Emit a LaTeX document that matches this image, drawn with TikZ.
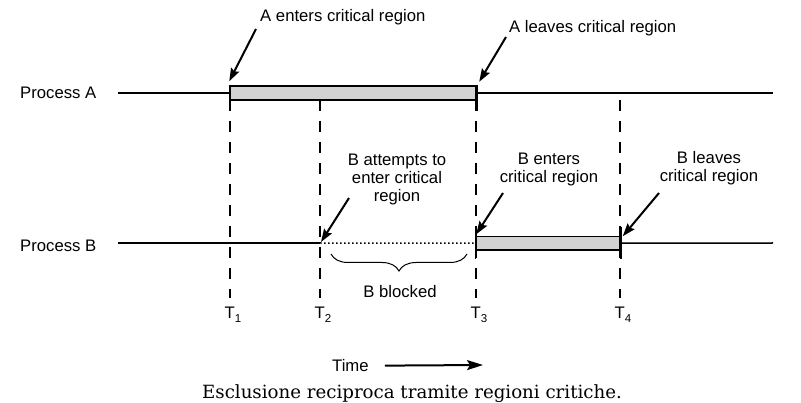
\documentclass[tikz,border=0pt]{standalone}
\usepackage{fontspec}
\setmainfont{Liberation Sans}
\newfontfamily\captionserif{DejaVu Serif}
\usetikzlibrary{arrows.meta,positioning,decorations.pathreplacing}
\definecolor{boxgray}{RGB}{210,210,210}
\newcommand{\tsub}[1]{\raisebox{-3.7pt}{\fontsize{11.5}{12}\selectfont #1}}

\begin{document}
\begin{tikzpicture}[x=1pt, y=-1pt,
    lbl/.style={font=\fontsize{16.7}{18}\selectfont, inner sep=0pt},
    critbox/.style={draw, line width=1.5pt, fill=boxgray, inner sep=0pt, minimum height=14pt},
    procline/.style={line width=1.5pt},
    tline/.style={line width=1.7pt, dash pattern=on 11pt off 10pt},
    callout/.style={-{Stealth[length=13pt,width=9pt,inset=2pt]}, line width=2pt}]
    \useasboundingbox (0,0) rectangle (801,403);

    % Time marks
    \foreach \x/\n in {230/1, 320/2, 476/3, 620/4} {
        \coordinate (top\n) at (\x,100);
        \coordinate (bot\n) at (\x,298);
        \draw[tline] (top\n) -- (bot\n);
        \node[lbl, anchor=base] (t\n) at (\x+3,319) {T\tsub{\n}};
    }

    % Processes
    \node[lbl, anchor=base west] (procA) at (20,99) {Process A};
    \node[lbl, anchor=base west] (procB) at (20,251.7) {Process B};
    \coordinate (Astart) at (118,93);
    \coordinate (Aend) at (773,93);
    \coordinate (Bstart) at (118,243);
    \coordinate (Bend) at (773,243);
    \coordinate (Btry) at (320,243);

    \node[critbox, minimum width=246pt] (critA) at (353,93) {};
    \node[critbox, minimum width=144pt, minimum height=13.5pt] (critB) at (548,243.25) {};

    \draw[procline] (Astart) -- (critA.west);
    \draw[procline] (critA.east) -- (Aend);
    \draw[procline] (Bstart) -- (Btry);
    \draw[procline, dash pattern=on 1.5pt off 2.5pt] (Btry) -- (critB.west);
    \draw[procline] (critB.east) -- (Bend);

    % Box edges
    \draw[procline] (critA.north west) -- ([yshift=-10pt]critA.south west);
    \draw[procline] (critA.north east) -- ([yshift=-10pt]critA.south east);
    \draw[procline] ([yshift=9pt]critB.north west) -- ([yshift=-8pt]critB.south west);
    \draw[procline] ([yshift=9pt]critB.north east) -- ([yshift=-8pt]critB.south east);

    % Labels
    \node[lbl, anchor=base west] (aenter) at (260,21.7) {A enters critical region};
    \node[lbl, anchor=base west] (aleave) at (509,32.3) {A leaves critical region};
    \node[lbl, align=center, anchor=base] (btry) at (397,202) {B attempts to\\enter critical\\region};
    \node[lbl, align=center, anchor=base] (benter) at (549,183) {B enters\\critical region};
    \node[lbl, align=center, anchor=base] (bleave) at (709,182) {B leaves\\critical region};

    % Arrows
    \coordinate (aenter-from) at (256,29);
    \coordinate (aleave-from) at (506,37);
    \coordinate (btry-from) at (349,198);
    \coordinate (benter-from) at (503,193);
    \coordinate (bleave-from) at (659,193);
    \draw[callout] (aenter-from) -- ([yshift=4pt]critA.north west);
    \draw[callout] (aleave-from) -- ([xshift=2.5pt,yshift=3.5pt]critA.north east);
    \draw[callout] (btry-from) -- ([xshift=1pt,yshift=1pt]Btry);
    \draw[callout] (benter-from) -- ([xshift=1pt,yshift=1.5pt]critB.north west);
    \draw[callout] (bleave-from) -- ([xshift=2pt,yshift=-0.5pt]critB.north east);

    % Blocked interval
    \coordinate (blkL) at (331,254);
    \coordinate (blkR) at (467,254);
    \draw[line width=1pt, decorate, decoration={brace, mirror, amplitude=17pt}] (blkL) -- (blkR);
    \node[lbl, anchor=base] (blocked) at (400,297.7) {B blocked};

    % Time axis
    \node[lbl, anchor=base west] (time) at (332,371.7) {Time};
    \coordinate (timeto) at (483,365);
    \draw[-{Stealth[length=16pt,width=10pt,inset=3pt]}, line width=2pt, shorten <=16pt] (time.east) -- (timeto);

    % Caption
    \node[font=\captionserif\fontsize{18.2}{20}\selectfont, inner sep=0pt, anchor=base] (caption) at (412,399) {Esclusione reciproca tramite regioni critiche.};
\end{tikzpicture}
\end{document}
